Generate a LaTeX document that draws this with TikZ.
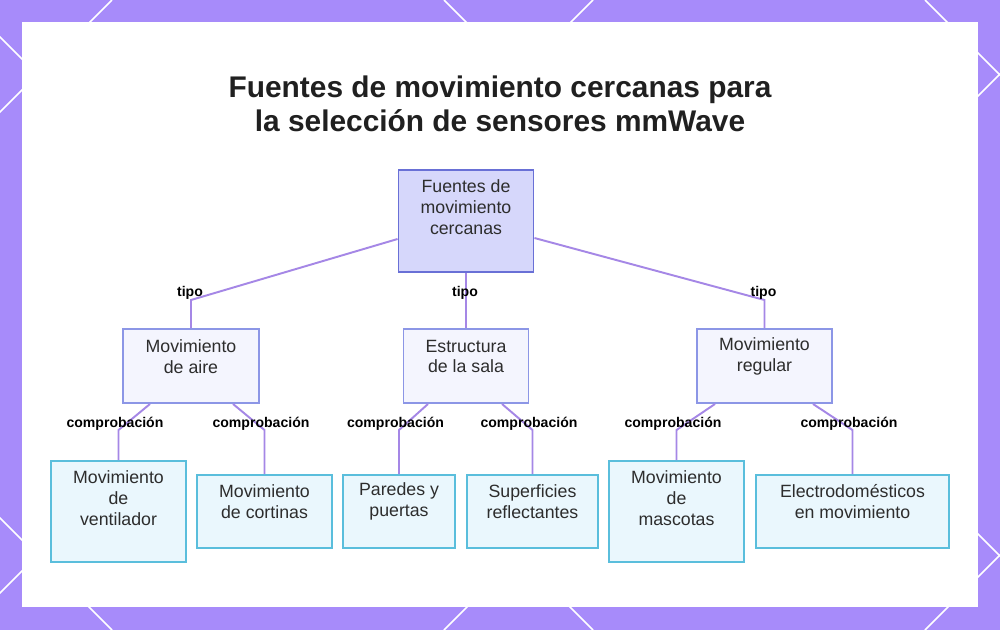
\documentclass[tikz,border=0pt]{standalone}
\usepackage{fontspec}
\setmainfont{Liberation Sans}
\usetikzlibrary{positioning,calc}
\definecolor{framec}{RGB}{167,139,250}
\definecolor{connc}{RGB}{165,135,230}
\definecolor{topfill}{RGB}{214,215,251}
\definecolor{topdraw}{RGB}{105,112,214}
\definecolor{midfill}{RGB}{244,245,254}
\definecolor{middraw}{RGB}{140,150,230}
\definecolor{leaffill}{RGB}{234,247,253}
\definecolor{leafdraw}{RGB}{90,190,220}
\definecolor{textc}{RGB}{45,45,45}
\tikzset{
	nodebox/.style={draw,rectangle,inner sep=0pt,line width=1.1pt},
	topbox/.style={nodebox,fill=topfill,draw=topdraw},
	midbox/.style={nodebox,fill=midfill,draw=middraw},
	leafbox/.style={nodebox,fill=leaffill,draw=leafdraw},
	nsize/.style 2 args={minimum width=#1*0.02cm,minimum height=#2*0.02cm},
	txt/.style={align=center,text=textc,font=\fontsize{10.1}{11.9}\selectfont},
	lbl/.style={text=black,font=\bfseries\fontsize{8}{9}\selectfont},
	titletxt/.style={align=center,text=textc!70!black,font=\bfseries\fontsize{17}{19.4}\selectfont},
	conn/.style={draw=connc,line width=1.1pt},
}
\begin{document}
\begin{tikzpicture}[x=0.02cm,y=-0.02cm]
		\def\W{1000}
		\def\H{630}
		\def\m{22}
		\def\per{481}
		\useasboundingbox (0,0) rectangle (\W,\H);
		%frame
		\fill[framec] (0,0) rectangle (\W,\H);
		\begin{scope}
			\clip (0,0) rectangle (\W,\H);
			\foreach \k in {0,...,3}{
				\pgfmathsetmacro\ca{112+\k*\per}
				\pgfmathsetmacro\cb{925-\k*\per}
				\draw[white,line width=0.9pt] (\ca,0) -- (\ca-\H,\H);
				\draw[white,line width=0.9pt] (\cb,0) -- (\cb+\H,\H);
			}
		\end{scope}
		\fill[white] (\m,\m) rectangle (\W-\m,607);
		
		\node[titletxt] (title) at (500,104) {Fuentes de movimiento cercanas para\\la selección de sensores mmWave};
		
		%boxes
		\node[topbox,nsize={135}{102}] (top) at (466,221) {};
		\node[midbox,nsize={136}{74}] (aire) at (191,366) {};
		\node[midbox,nsize={125}{74}] (sala) at (466,366) {};
		\node[midbox,nsize={135}{74}] (regular) at (764.5,366) {};
		\node[leafbox,nsize={135}{101}] (vent) at (118.5,511.5) {};
		\node[leafbox,nsize={135}{73}] (cort) at (264.5,511.5) {};
		\node[leafbox,nsize={112}{73}] (pared) at (399,511.5) {};
		\node[leafbox,nsize={131}{73}] (refl) at (532.5,511.5) {};
		\node[leafbox,nsize={135}{101}] (masc) at (676.5,511.5) {};
		\node[leafbox,nsize={193}{73}] (electro) at (852.5,511.5) {};
		
		\node[txt] (top-t) at ($(top)+(0,-14)$) {Fuentes de\\movimiento\\cercanas};
		\node[txt] (aire-t) at ($(aire)+(0,-9.5)$) {Movimiento\\de aire};
		\node[txt] (sala-t) at ($(sala)+(0,-9.5)$) {Estructura\\de la sala};
		\node[txt] (regular-t) at ($(regular)+(0,-9.5)$) {Movimiento\\regular};
		\node[txt] (vent-t) at ($(vent)+(0,-13.5)$) {Movimiento\\de\\ventilador};
		\node[txt] (cort-t) at ($(cort)+(0,-10)$) {Movimiento\\de cortinas};
		\node[txt] (pared-t) at ($(pared)+(0,-10)$) {Paredes y\\puertas};
		\node[txt] (refl-t) at ($(refl)+(0,-10)$) {Superficies\\reflectantes};
		\node[txt] (masc-t) at ($(masc)+(0,-13.5)$) {Movimiento\\de\\mascotas};
		\node[txt] (electro-t) at ($(electro)+(0,-10)$) {Electrodomésticos\\en movimiento};
		
		%connectors
		\coordinate (b1) at (191,300);
		\coordinate (b2) at (466,300);
		\coordinate (b3) at (764.5,300);
		\draw[conn] ($(top.west)+(0,18)$) -- (b1) -- (aire.north);
		\draw[conn] (top.south) -- (b2) -- (sala.north);
		\draw[conn] ($(top.east)+(0,17)$) -- (b3) -- (regular.north);
		
		\coordinate (c1) at (118.5,430);
		\coordinate (c2) at (264.5,430);
		\coordinate (c3) at (399,430);
		\coordinate (c4) at (532.5,430);
		\coordinate (c5) at (676.5,430);
		\coordinate (c6) at (852.5,430);
		\draw[conn] ($(aire.south)+(-41,0)$) -- (c1) -- (vent.north);
		\draw[conn] ($(aire.south)+(42,0)$) -- (c2) -- (cort.north);
		\draw[conn] ($(sala.south)+(-38,0)$) -- (c3) -- (pared.north);
		\draw[conn] ($(sala.south)+(36,0)$) -- (c4) -- (refl.north);
		\draw[conn] ($(regular.south)+(-49.5,0)$) -- (c5) -- (masc.north);
		\draw[conn] ($(regular.south)+(48.5,0)$) -- (c6) -- (electro.north);
		
		%labels
		\foreach \b in {b1,b2,b3}
			\node[lbl] (\b-l) at ($(\b)+(-1,-7)$) {tipo};
		\foreach \b in {c1,c2,c3,c4,c5,c6}
			\node[lbl] (\b-l) at ($(\b)+(-3.5,-6)$) {comprobación};
	\end{tikzpicture}
\end{document}
